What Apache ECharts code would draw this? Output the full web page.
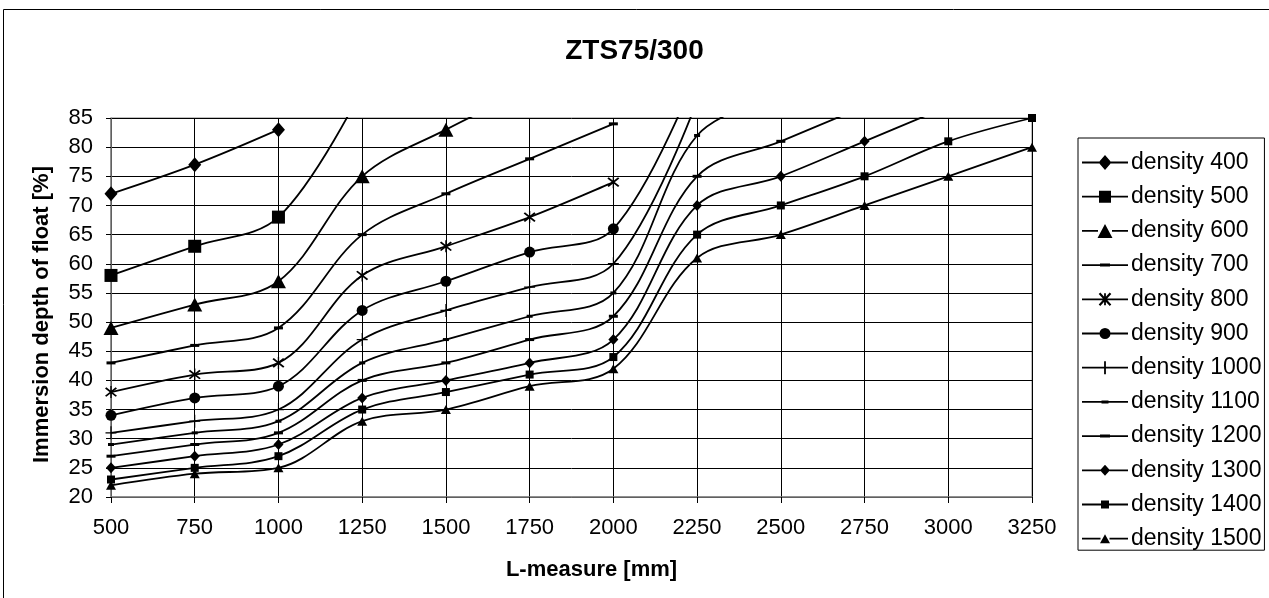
<!DOCTYPE html>
<html>
<head>
<meta charset="utf-8">
<script src="https://cdn.jsdelivr.net/npm/echarts@6/dist/echarts.min.js"></script>
<style>
  html, body { margin: 0; padding: 0; background: #fff; }
  #chart { width: 1269px; height: 598px; }
</style>
</head>
<body>
<div id="chart"></div>
<script>
// ---- data ----
const categories = ['500','750','1000','1250','1500','1750','2000','2250','2500','2750','3000','3250'];
const yTicks = [20,25,30,35,40,45,50,55,60,65,70,75,80,85];

const density400  = [72, 77, 83];
const density500  = [58, 63, 68, 90];
const density600  = [49, 53, 57, 75, 83, 90];
const density700  = [43, 46, 49, 65, 72, 78, 84];
const density800  = [38, 41, 43, 58, 63, 68, 74];
const density900  = [34, 37, 39, 52, 57, 62, 66, 93];
const density1000 = [31, 33, 35, 47, 52, 56, 60, 88];
const density1100 = [29, 31, 33, 43, 47, 51, 55, 82, 89];
const density1200 = [27, 29, 31, 40, 43, 47, 51, 75, 81, 87];
const density1300 = [25, 27, 29, 37, 40, 43, 47, 70, 75, 81, 87];
const density1400 = [23, 25, 27, 35, 38, 41, 44, 65, 70, 75, 81, 85];
const density1500 = [22, 24, 25, 33, 35, 39, 42, 61, 65, 70, 75, 80];

const seriesNames = ['density 400','density 500','density 600','density 700','density 800','density 900',
  'density 1000','density 1100','density 1200','density 1300','density 1400','density 1500'];
const seriesData = [density400, density500, density600, density700, density800, density900,
  density1000, density1100, density1200, density1300, density1400, density1500];

// ---- marker styles ----
const ASTERISK = 'path://M9 0L11 0L11 20L9 20Z M1 4L3 2L19 16L17 18Z M17 2L19 4L3 18L1 16Z';
const PLUS = 'path://M9 0L11 0L11 20L9 20Z M0 9L20 9L20 11L0 11Z';
const markers = [
  { symbol: 'diamond',  size: [13, 15], kind: 'diamond',  lw: 13, lh: 15 },
  { symbol: 'rect',     size: 13,       kind: 'rect',     lw: 12, lh: 12 },
  { symbol: 'triangle', size: [15, 14], kind: 'triangle', lw: 15, lh: 14 },
  { symbol: 'rect',     size: [9, 3],   kind: 'rect',     lw: 10, lh: 3 },
  { symbol: ASTERISK,   size: 12,       kind: 'asterisk', lw: 11, lh: 12 },
  { symbol: 'circle',   size: 11,       kind: 'circle',   lw: 11, lh: 11 },
  { symbol: PLUS,       size: [11, 13], kind: 'plus',     lw: 11, lh: 13 },
  { symbol: 'rect',     size: [6, 3],   kind: 'rect',     lw: 7,  lh: 3 },
  { symbol: 'rect',     size: [9, 3],   kind: 'rect',     lw: 10, lh: 3 },
  { symbol: 'diamond',  size: [10, 11], kind: 'diamond',  lw: 10, lh: 11 },
  { symbol: 'rect',     size: 8,        kind: 'rect',     lw: 8,  lh: 8 },
  { symbol: 'triangle', size: [10, 9],  kind: 'triangle', lw: 10, lh: 9 }
];

// legend icon: line + marker drawn as one path in a 46-wide box
function legendIcon(kind, w, h) {
  const cx = 23, cy = 12, t = 0.9, W = 46;
  const f = function (n) { return (Math.round(n * 100) / 100).toString(); };
  const rectP = function (x0, y0, x1, y1) {
    return 'M' + f(x0) + ' ' + f(y0) + 'L' + f(x1) + ' ' + f(y0) + 'L' + f(x1) + ' ' + f(y1) + 'L' + f(x0) + ' ' + f(y1) + 'Z';
  };
  let p = '';
  const full = (kind === 'plus' || kind === 'asterisk');
  if (full) {
    p += rectP(0, cy - t, W, cy + t);
  } else {
    p += rectP(0, cy - t, cx - w / 2 + 0.5, cy + t);
    p += rectP(cx + w / 2 - 0.5, cy - t, W, cy + t);
  }
  const l = cx - w / 2, r = cx + w / 2, tp = cy - h / 2, b = cy + h / 2;
  if (kind === 'diamond') {
    p += 'M' + f(cx) + ' ' + f(tp) + 'L' + f(r) + ' ' + f(cy) + 'L' + f(cx) + ' ' + f(b) + 'L' + f(l) + ' ' + f(cy) + 'Z';
  } else if (kind === 'rect') {
    p += rectP(l, tp, r, b);
  } else if (kind === 'triangle') {
    p += 'M' + f(cx) + ' ' + f(tp) + 'L' + f(r) + ' ' + f(b) + 'L' + f(l) + ' ' + f(b) + 'Z';
  } else if (kind === 'circle') {
    const rr = w / 2;
    p += 'M' + f(cx + rr) + ' ' + f(cy) + 'A' + f(rr) + ' ' + f(rr) + ' 0 1 1 ' + f(cx - rr) + ' ' + f(cy) +
         'A' + f(rr) + ' ' + f(rr) + ' 0 1 1 ' + f(cx + rr) + ' ' + f(cy) + 'Z';
  } else if (kind === 'plus') {
    p += rectP(cx - t, tp, cx + t, b);
  } else if (kind === 'asterisk') {
    const d = 0.8;
    p += rectP(cx - t, tp, cx + t, b);
    p += 'M' + f(l - d) + ' ' + f(tp + d) + 'L' + f(l + d) + ' ' + f(tp - d) + 'L' + f(r + d) + ' ' + f(b - d) + 'L' + f(r - d) + ' ' + f(b + d) + 'Z';
    p += 'M' + f(r - d) + ' ' + f(tp - d) + 'L' + f(r + d) + ' ' + f(tp + d) + 'L' + f(l + d) + ' ' + f(b + d) + 'L' + f(l - d) + ' ' + f(b - d) + 'Z';
  }
  return 'path://' + p;
}

const FONT = '"Liberation Sans", Arial, sans-serif';

const chart = echarts.init(document.getElementById('chart'));
const option = {
  backgroundColor: '#fff',
  animation: false,
  textStyle: { fontFamily: FONT, color: '#000' },
  title: {
    text: 'ZTS75/300',
    left: 'center',
    top: 32,
    textStyle: { fontFamily: FONT, fontWeight: 'bold', fontSize: 28, color: '#000' }
  },
  graphic: [{
    type: 'rect',
    shape: { x: 3.5, y: 9.5, width: 1300, height: 700 },
    style: { fill: 'none', stroke: '#000', lineWidth: 1 },
    silent: true, z: -10
  }],
  grid: {
    left: 111, right: 237, top: 118, bottom: 101,
    show: true, borderColor: '#808080', borderWidth: 1
  },
  legend: {
    orient: 'vertical',
    left: 1078, top: 138,
    padding: [13, 3, 0, 4],
    borderColor: '#000', borderWidth: 1,
    itemWidth: 46, itemHeight: 24, itemGap: 11.2,
    symbolKeepAspect: true,
    textStyle: { fontFamily: FONT, fontSize: 23, color: '#000', padding: [0, 0, 0, -2] },
    data: seriesNames.map(function (n, i) {
      return { name: n, icon: legendIcon(markers[i].kind, markers[i].lw, markers[i].lh) };
    })
  },
  xAxis: {
    type: 'category',
    data: categories,
    boundaryGap: false,
    name: 'L-measure [mm]',
    nameLocation: 'middle',
    nameGap: 62,
    nameTextStyle: { fontFamily: FONT, fontWeight: 'bold', fontSize: 22, color: '#000', padding: [0, 0, 0, 40] },
    axisLine: { show: true, lineStyle: { color: '#808080', width: 1.5 } },
    axisTick: { show: true, inside: false, length: 6, alignWithLabel: true, lineStyle: { color: '#000' } },
    axisLabel: { fontFamily: FONT, fontSize: 22, color: '#000', margin: 20 },
    splitLine: { show: true, lineStyle: { color: '#000', width: 1 } }
  },
  yAxis: {
    type: 'value',
    min: 20, max: 85, interval: 5,
    name: 'Immersion depth of float [%]',
    nameLocation: 'middle',
    nameGap: 58,
    nameTextStyle: { fontFamily: FONT, fontWeight: 'bold', fontSize: 22, color: '#000', padding: [0, 14, 0, 0] },
    axisLine: { show: true, lineStyle: { color: '#808080', width: 1.5 } },
    axisTick: { show: true, length: 5, lineStyle: { color: '#000' } },
    axisLabel: {
      fontFamily: FONT, fontSize: 22, color: '#000', margin: 18,
      formatter: function (v) { return yTicks.indexOf(v) >= 0 ? String(v) : ''; }
    },
    splitLine: { show: true, lineStyle: { color: '#000', width: 1 } }
  },
  series: seriesNames.map(function (name, i) {
    return {
      name: name,
      type: 'line',
      data: seriesData[i],
      smooth: 0.35,
      clip: true,
      symbol: markers[i].symbol,
      symbolSize: markers[i].size,
      showSymbol: true,
      lineStyle: { color: '#000', width: 1.8 },
      itemStyle: { color: '#000', borderColor: '#000', borderWidth: 0 },
      emphasis: { disabled: true }
    };
  })
};
chart.setOption(option);
</script>
</body>
</html>
